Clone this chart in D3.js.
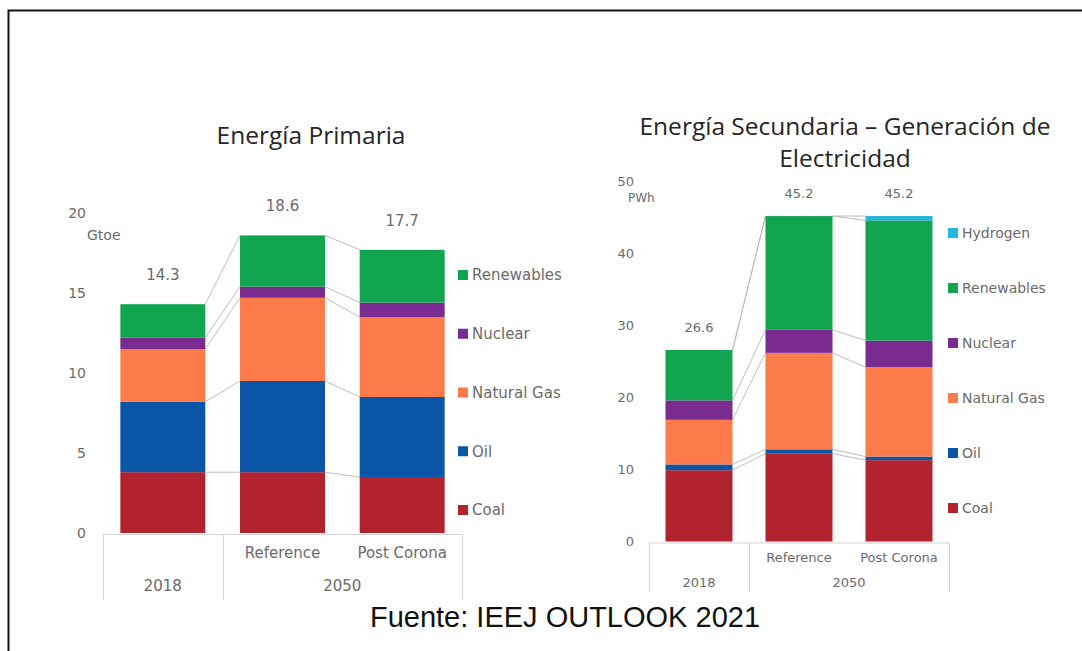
<!DOCTYPE html>
<html lang="es">
<head>
<meta charset="UTF-8">
<title>Energía Primaria / Secundaria</title>
<script src="https://cdn.jsdelivr.net/npm/d3@7"></script>
<style>
  body { margin: 0; background: #fff; }
  .tick text, .lbl { fill: #6b6b6b; font-family: "DejaVu Sans", sans-serif; }
  .ttl { fill: #262626; font-family: "Open Sans", sans-serif; }
</style>
</head>
<body>
<script>
// categories and groups
var categories = ["2018", "Reference", "Post Corona"];
var subLabels = ["", "Reference", "Post Corona"];
var groupLabels = ["2018", "2050"];

// Energía Primaria (Gtoe)
var priKeys = ["Coal", "Oil", "Natural Gas", "Nuclear", "Renewables"];
var priCoal = [3.8, 3.8, 3.5];
var priOil = [4.4, 5.7, 5.0];
var priGas = [3.3, 5.2, 5.0];
var priNuclear = [0.7, 0.7, 0.9];
var priRenew = [2.1, 3.2, 3.3];
var priTotals = ["14.3", "18.6", "17.7"];
var priTicks = [0, 5, 10, 15, 20];

// Generación de electricidad (PWh)
var elKeys = ["Coal", "Oil", "Natural Gas", "Nuclear", "Renewables", "Hydrogen"];
var elCoal = [9.9, 12.2, 11.3];
var elOil = [0.8, 0.6, 0.5];
var elGas = [6.2, 13.4, 12.4];
var elNuclear = [2.7, 3.2, 3.7];
var elRenew = [7.0, 15.8, 16.7];
var elHydrogen = [0, 0, 0.6];
var elTotals = ["26.6", "45.2", "45.2"];
var elTicks = [0, 10, 20, 30, 40, 50];

var colors = {
    "Coal": "#b1232f",
    "Oil": "#0a55a6",
    "Natural Gas": "#fd7b4a",
    "Nuclear": "#7a2b90",
    "Renewables": "#12a550",
    "Hydrogen": "#22b7df"
};

var svg = d3.select("body").append("svg")
    .attr("width", 1082)
    .attr("height", 651);

// frame
svg.append("path")
    .attr("d", "M8.5,651V10.5H1082")
    .attr("fill", "none")
    .attr("stroke", "#111")
    .attr("stroke-width", 2);

function panel(o) {
    var rows = categories.map(function(c, i) {
        var r = { cat: c };
        o.keys.forEach(function(k, j) { r[k] = o.values[j][i]; });
        return r;
    });
    var series = d3.stack().keys(o.keys)(rows);

    var x = d3.scaleBand().domain(categories).range(o.xr)
        .paddingInner(o.pad).paddingOuter(o.pad / 2);
    var y = d3.scaleLinear().domain(o.yd).range(o.yr);
    var bw = x.bandwidth();

    var g = svg.append("g");

    // series lines between neighbouring bars
    series.forEach(function(s) {
        for (var i = 0; i < categories.length - 1; i++) {
            g.append("line")
                .attr("x1", x(categories[i]) + bw)
                .attr("y1", y(s[i][1]))
                .attr("x2", x(categories[i + 1]))
                .attr("y2", y(s[i + 1][1]))
                .attr("stroke", "#bdbdbd")
                .attr("stroke-width", 1);
        }
    });

    // stacked bars
    g.selectAll("g.layer").data(series).enter()
        .append("g").attr("class", "layer")
        .attr("fill", function(d) { return colors[d.key]; })
        .selectAll("rect").data(function(d) { return d; }).enter()
        .append("rect")
        .attr("x", function(d) { return x(d.data.cat); })
        .attr("width", bw)
        .attr("y", function(d) { return y(d[1]); })
        .attr("height", function(d) { return y(d[0]) - y(d[1]); });

    // totals
    var top = series[series.length - 1];
    g.selectAll("text.tot").data(top).enter()
        .append("text").attr("class", "lbl")
        .attr("x", function(d) { return x(d.data.cat) + bw / 2; })
        .attr("y", function(d) { return y(d[1]) - o.totOff; })
        .attr("text-anchor", "middle")
        .style("font-size", o.fs + "px")
        .text(function(d, i) { return o.totals[i]; });

    // value axis
    var ax = g.append("g")
        .attr("transform", "translate(" + o.tickX + ",0)")
        .call(d3.axisLeft(y).tickValues(o.ticks).tickSize(0).tickPadding(0));
    ax.select(".domain").remove();
    ax.selectAll("text").style("font-size", o.tickFs + "px");

    g.append("text").attr("class", "lbl")
        .attr("x", o.unitPos[0]).attr("y", o.unitPos[1])
        .style("font-size", o.unitFs + "px")
        .text(o.unit);

    // category axis (two levels)
    var axY = y(0) + 1.5;
    var boundary = o.xr[0] + x.step();
    g.append("line")
        .attr("x1", o.xr[0]).attr("x2", o.xr[1])
        .attr("y1", axY).attr("y2", axY)
        .attr("stroke", "#d4d4d4");
    [o.xr[0], boundary, o.xr[1]].forEach(function(xx) {
        g.append("line")
            .attr("x1", Math.round(xx) + 0.5).attr("x2", Math.round(xx) + 0.5)
            .attr("y1", axY).attr("y2", o.axBottom)
            .attr("stroke", "#d4d4d4");
    });
    g.selectAll("text.sub").data(subLabels).enter()
        .append("text").attr("class", "lbl")
        .attr("x", function(d, i) { return x(categories[i]) + bw / 2; })
        .attr("y", o.subY)
        .attr("text-anchor", "middle")
        .style("font-size", o.catFs + "px")
        .text(function(d) { return d; });
    var groupX = [
        x(categories[0]) + bw / 2,
        (x(categories[1]) + x(categories[2]) + bw) / 2
    ];
    g.selectAll("text.grp").data(groupLabels).enter()
        .append("text").attr("class", "lbl")
        .attr("x", function(d, i) { return groupX[i]; })
        .attr("y", o.grpY)
        .attr("text-anchor", "middle")
        .style("font-size", o.catFs + "px")
        .text(function(d) { return d; });

    // legend
    var legKeys = o.keys.slice().reverse();
    var ly = d3.scalePoint().domain(legKeys).range(o.legY);
    var leg = g.selectAll("g.leg").data(legKeys).enter()
        .append("g").attr("class", "leg")
        .attr("transform", function(d) { return "translate(" + o.legX + "," + ly(d) + ")"; });
    leg.append("rect")
        .attr("x", 0).attr("y", -5).attr("width", 10).attr("height", 10)
        .attr("fill", function(d) { return colors[d]; });
    leg.append("text").attr("class", "lbl")
        .attr("x", 14).attr("dy", "0.35em")
        .style("font-size", o.legFs + "px")
        .text(function(d) { return d; });

    // title
    var t = g.append("text").attr("class", "ttl")
        .attr("x", o.titleX).attr("text-anchor", "middle")
        .style("font-size", "24.5px");
    o.title.forEach(function(line, i) {
        t.append("tspan").attr("x", o.titleX).attr("y", o.titleY + i * 32).text(line);
    });
}

panel({
    keys: priKeys,
    values: [priCoal, priOil, priGas, priNuclear, priRenew],
    totals: priTotals,
    ticks: priTicks,
    xr: [103, 462], pad: 0.29,
    yd: [0, 20], yr: [533, 213],
    totOff: 24, fs: 15, tickFs: 14, tickX: 86,
    unit: "Gtoe", unitPos: [87, 240], unitFs: 14,
    axBottom: 600, subY: 558, grpY: 591, catFs: 15,
    legX: 458, legY: [275, 510], legFs: 15,
    title: ["Energía Primaria"], titleX: 311, titleY: 144
});

panel({
    keys: elKeys,
    values: [elCoal, elOil, elGas, elNuclear, elRenew, elHydrogen],
    totals: elTotals,
    ticks: elTicks,
    xr: [649, 949], pad: 0.33,
    yd: [0, 50], yr: [541.5, 181.5],
    totOff: 18, fs: 13, tickFs: 13, tickX: 634,
    unit: "PWh", unitPos: [628, 202], unitFs: 12,
    axBottom: 592, subY: 562, grpY: 587, catFs: 13,
    legX: 948, legY: [233, 508], legFs: 14,
    title: ["Energía Secundaria – Generación de", "Electricidad"], titleX: 845, titleY: 135
});

// source
svg.append("text")
    .attr("x", 565).attr("y", 627)
    .attr("text-anchor", "middle")
    .style("font-family", "'Liberation Sans', Arial, sans-serif")
    .style("font-size", "29px")
    .style("fill", "#111")
    .text("Fuente: IEEJ OUTLOOK 2021");
</script>
</body>
</html>
